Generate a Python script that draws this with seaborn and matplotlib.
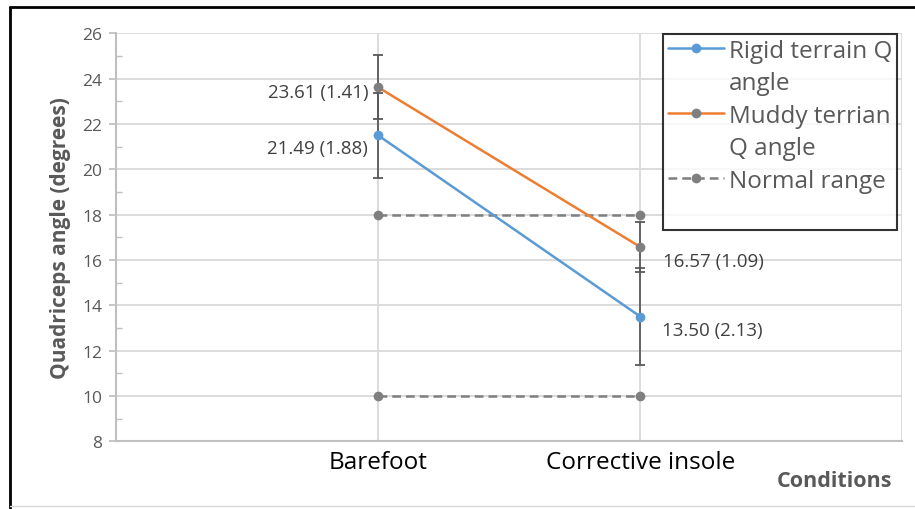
import numpy as np
import pandas as pd
import matplotlib
matplotlib.use("Agg")
import matplotlib.pyplot as plt
from matplotlib.lines import Line2D
import seaborn as sns

# data
conditions = ["Barefoot", "Corrective insole"]
rigid_mean = [21.49, 13.50]
rigid_sd = [1.88, 2.13]
muddy_mean = [23.61, 16.57]
muddy_sd = [1.41, 1.09]
normal_upper = [18, 18]
normal_lower = [10, 10]

sns.set_theme(style="white")
plt.rcParams["font.family"] = ["Open Sans", "DejaVu Sans"]

blue = "#5B9BD5"
orange = "#ED7D31"
grey = "#7F7F7F"
dark = "#595959"

pos = np.arange(1, len(conditions) + 1)
df = pd.DataFrame({
    "pos": np.tile(pos, 4),
    "value": rigid_mean + muddy_mean + normal_upper + normal_lower,
    "series": ["rigid"] * 2 + ["muddy"] * 2 + ["upper"] * 2 + ["lower"] * 2,
})

fig = plt.figure(figsize=(9.15, 5.1), dpi=100)
ax = fig.add_axes([0.127, 0.133, 0.859, 0.80])

# normal range lines
for s in ["upper", "lower"]:
    sns.lineplot(data=df[df.series == s], x="pos", y="value", ax=ax, color=grey,
                 linestyle=(0, (3.5, 2)), linewidth=1.8, marker="o", markersize=7,
                 markeredgewidth=0, markerfacecolor=grey)

# error bars
ax.errorbar(pos, muddy_mean, yerr=muddy_sd, fmt="none", ecolor=dark, elinewidth=1.3,
            capsize=3.5, capthick=1.3, zorder=3)
ax.errorbar(pos, rigid_mean, yerr=rigid_sd, fmt="none", ecolor=dark, elinewidth=1.3,
            capsize=3.5, capthick=1.3, zorder=3)

sns.lineplot(data=df[df.series == "muddy"], x="pos", y="value", ax=ax, color=orange,
             linewidth=1.8, marker="o", markersize=7, markeredgewidth=0,
             markerfacecolor=grey, zorder=4)
sns.lineplot(data=df[df.series == "rigid"], x="pos", y="value", ax=ax, color=blue,
             linewidth=1.8, marker="o", markersize=7, markeredgewidth=0,
             markerfacecolor=blue, zorder=4)

# data labels
lab_col = "#404040"
muddy_off = [(-10, -5), (23, -14)]
rigid_off = [(-10, -13), (22, -13)]
for i, p in enumerate(pos):
    ha = "right" if i == 0 else "left"
    ax.annotate(f"{muddy_mean[i]:.2f} ({muddy_sd[i]:.2f})", (p, muddy_mean[i]),
                xytext=muddy_off[i], textcoords="offset pixels", ha=ha, va="center",
                fontsize=13.5, color=lab_col)
    ax.annotate(f"{rigid_mean[i]:.2f} ({rigid_sd[i]:.2f})", (p, rigid_mean[i]),
                xytext=rigid_off[i], textcoords="offset pixels", ha=ha, va="center",
                fontsize=13.5, color=lab_col)

# axes
ax.set_xlim(0, len(conditions) + 1)
ax.set_ylim(8, 26)
ax.set_xticks(list(pos) + [len(conditions) + 1])
ax.set_xticklabels(conditions + [""], fontsize=17.5, color="black")
ax.set_yticks(np.arange(8, 27, 2))
ax.set_yticks(np.arange(9, 26, 2), minor=True)
ax.tick_params(axis="y", which="major", direction="out", length=5, color="#bfbfbf",
               labelsize=12.5, labelcolor=dark, left=True, pad=5)
ax.tick_params(axis="y", which="minor", direction="in", length=4, color="#bfbfbf", left=True)
ax.tick_params(axis="x", length=0, pad=6)
ax.grid(True, which="major", color="#d9d9d9", linewidth=1.3)
ax.set_axisbelow(True)
for s in ["top", "right"]:
    ax.spines[s].set_visible(False)
for s in ["left", "bottom"]:
    ax.spines[s].set_color("#bfbfbf")
    ax.spines[s].set_linewidth(1.5)

ax.set_xlabel("")
ax.set_ylabel("Quadriceps angle (degrees)", fontsize=15, fontweight="bold", color=dark,
              labelpad=8)
fig.text(834 / 915, 1 - 482 / 510, "Conditions", fontsize=15.5, fontweight="bold",
         color=dark, ha="center", va="center")

# legend: one entry per text line so the markers sit on the first line
nohandle = Line2D([], [], linestyle="none")
handles = [
    Line2D([], [], color=blue, linewidth=1.8, marker="o", markersize=7,
           markerfacecolor=blue, markeredgewidth=0),
    nohandle,
    Line2D([], [], color=orange, linewidth=1.8, marker="o", markersize=7,
           markerfacecolor=grey, markeredgewidth=0),
    nohandle,
    Line2D([], [], color=grey, linewidth=1.8, linestyle=(0, (3.5, 2)), marker="o",
           markersize=7, markerfacecolor=grey, markeredgewidth=0),
    nohandle,
]
labels = ["Rigid terrain Q", "angle", "Muddy terrian", "Q angle", "Normal range", " "]
leg = ax.legend(handles, labels, loc="upper left", bbox_to_anchor=(0.696, 0.998),
                fontsize=17.5, frameon=True, fancybox=False, borderpad=0.2,
                handlelength=2.3, handletextpad=0.2, labelspacing=0.35,
                borderaxespad=0)
leg.get_frame().set_edgecolor("black")
leg.get_frame().set_linewidth(1.5)
for t in leg.get_texts():
    t.set_color(dark)

# outer frame
fig.add_artist(Line2D([10 / 915, 10 / 915], [0, 1 - 8 / 510], color="black", linewidth=2,
                      transform=fig.transFigure))
fig.add_artist(Line2D([10 / 915, 1], [1 - 8 / 510, 1 - 8 / 510], color="black",
                      linewidth=2, transform=fig.transFigure))
fig.add_artist(Line2D([10 / 915, 1], [3 / 510, 3 / 510], color="#d9d9d9",
                      linewidth=1, transform=fig.transFigure))

fig.savefig("out.png", dpi=100)
